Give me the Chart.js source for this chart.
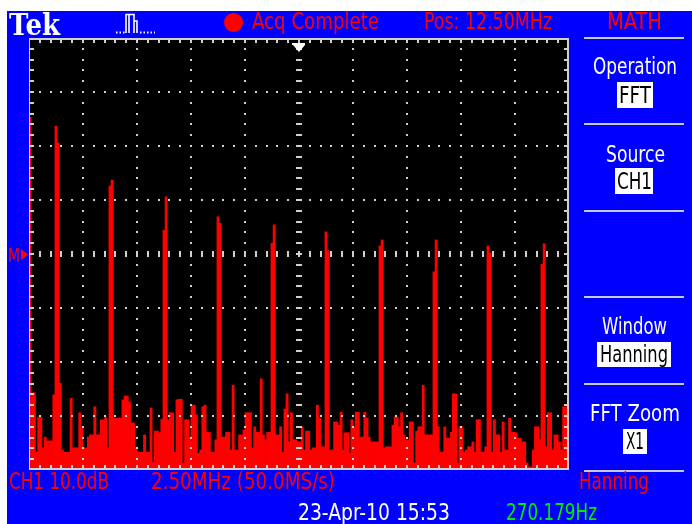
<!DOCTYPE html>
<html>
<head>
<meta charset="utf-8">
<title>Tek MATH FFT</title>
<script src="https://cdn.jsdelivr.net/npm/chart.js@4.4.1/dist/chart.umd.min.js"></script>
<style>
  html, body { margin: 0; padding: 0; background: #fff; }
  body { width: 692px; height: 524px; position: relative; overflow: hidden;
         font-family: "DejaVu Sans Condensed", "DejaVu Sans", sans-serif; }
  #screen { position: absolute; left: 7px; top: 11px; width: 685px; height: 513px; background: #0000fe; }
  #plot { position: absolute; left: 29px; top: 38px; width: 540px; height: 432px; background: #000; }
  .t { position: absolute; white-space: nowrap; font-size: 23px; line-height: 1; transform-origin: 0 0; }
  .box { position: absolute; background: #fff; }
  .sep { position: absolute; left: 584px; width: 100px; height: 2px; background: #c8c8c8; }
  #dot { position: absolute; left: 224px; top: 13px; width: 19px; height: 19px; border-radius: 50%; background: #ff0000; }
</style>
</head>
<body>
<div id="screen"></div>
<div id="plot"><canvas id="fft"></canvas></div>
<div id="dot"></div>
<svg id="icons" width="692" height="524" style="position:absolute;left:0;top:0;pointer-events:none">
  <!-- acquisition pulse icon -->
  <path d="M116 32.5 H125 M140 32.5 H155" stroke="#fff" stroke-width="2" stroke-dasharray="1.5 2" fill="none"/>
  <path d="M126 33 V14.5 H134 V33 M129 15 V33 M134 21 H137 V33" stroke="#fff" stroke-width="1.6" fill="none"/>
  <!-- math reference marker -->
  <path d="M21 249 L28 254.5 L21 260 Z" fill="#ff0000"/>
</svg>
<script>
// FFT trace, dB relative to the M reference, one value per 0.1 MHz bin (0 - 25 MHz)
const spectrumDb = [
  25.3, -25.7, -25.7, -36.7, -30.2, -30.2, -35.9, -33.9, -34.6, -34.6,
  -34.6, -26.1, 23.7, 20.6, -23.9, -36.3, -36.7, -36.7, -36.7, -26.7,
  -35.9, -35.9, -35.9, -29.4, -32.0, -35.9, -35.9, -33.9, -33.5, -33.5,
  -28.3, -33.5, -33.5, -30.7, -30.7, -30.2, -35.9, 12.6, 13.7, -30.4,
  -30.4, -30.4, -30.4, -27.0, -26.3, -26.3, -27.4, -31.3, -31.3, -35.9,
  -36.7, -36.7, -36.7, -33.5, -36.7, -36.7, -28.5, -38.5, -32.8, -32.8,
  -33.1, -30.6, 4.4, 10.6, -30.7, -29.4, -29.4, -36.7, -27.0, -26.9,
  -26.9, -38.7, -30.7, -30.7, -33.9, -28.0, -28.0, -29.8, -36.9, -36.3,
  -28.3, -28.0, -33.0, -33.0, -36.7, -36.7, -34.4, 6.9, 5.7, -33.9,
  -33.9, -33.0, -33.0, -36.3, -24.3, -36.3, -36.3, -33.5, -33.5, -32.6,
  -29.4, -29.4, -29.4, -35.9, -32.0, -33.0, -33.0, -23.1, -33.5, -34.4,
  -33.0, -33.0, 2.0, 5.4, -33.5, -33.5, -32.0, -36.7, -28.7, -25.9,
  -34.8, -29.4, -34.4, -34.4, -34.8, -34.8, -32.0, -36.3, -32.8, -32.8,
  -36.3, -35.9, -35.9, -28.0, -30.4, -35.7, -35.7, 4.1, 0.6, -36.3,
  -36.3, -31.1, -31.1, -31.7, -29.3, -36.3, -33.1, -33.1, -36.9, -30.7,
  -32.0, -29.3, -29.3, -33.9, -33.9, -29.3, -30.4, -33.9, -34.8, -34.8,
  -34.8, -34.8, 1.5, 2.6, -35.9, -35.7, -35.7, -35.7, -31.7, -30.2,
  -30.2, -32.0, -29.4, -33.5, -34.4, -34.4, -31.1, -31.1, -38.7, -32.8,
  -32.0, -32.0, -24.3, -33.5, -33.5, -33.5, -33.5, -3.3, 2.6, -32.0,
  -36.7, -36.7, -32.0, -34.1, -34.1, -33.0, -25.9, -25.9, -38.7, -32.0,
  -32.0, -36.7, -36.3, -35.7, -35.7, -34.8, -36.7, -30.7, -30.7, -36.7,
  -36.7, -35.7, 1.5, 0.2, -36.7, -30.7, -33.5, -33.5, -36.7, -31.1,
  -36.3, -36.3, -30.4, -33.0, -33.0, -33.1, -34.1, -34.1, -34.8, -34.8,
  -38.7, -39.4, -39.4, -36.3, -32.0, -32.0, -34.4, -1.9, 1.9, -35.7,
  -29.4, -29.4, -36.3, -33.5, -33.5, -34.8, -36.3, -28.3, -28.3, -28.3
];
const binMHz = 0.1;
const screenDb = [-40, 40];          // 8 div x 10.0 dB
const xDivs = 10;
const yDivs = 8;

// screen readouts
const headerLabels = ['Acq Complete', 'Pos: 12.50MHz', 'MATH'];
const menuTitles = ['Operation', 'Source', 'Window', 'FFT Zoom'];
const menuValues = ['FFT', 'CH1', 'Hanning', 'X1'];
const footerLabels = ['CH1 10.0dB', '2.50MHz (50.0MS/s)', 'Hanning'];
const statusLabels = ['23-Apr-10 15:53', '270.179Hz'];

const CAP_MID = 0.4815;   // cap-height middle of DejaVu at line-height 1, in em

// put a text at [x1, x2] with its cap middle on capMid
function label(text, x1, x2, capMid, color, size, style) {
  const el = document.createElement('div');
  el.className = 't';
  el.textContent = text;
  el.style.color = color;
  el.style.fontSize = size + 'px';
  if (style) Object.assign(el.style, style);
  document.body.appendChild(el);
  const w = el.getBoundingClientRect().width;
  el.style.left = x1 + 'px';
  el.style.top = (capMid - CAP_MID * size) + 'px';
  el.style.transform = `scaleX(${(x2 - x1) / w})`;
  return el;
}

function box(x1, y1, x2, y2) {
  const el = document.createElement('div');
  el.className = 'box';
  Object.assign(el.style, { left: x1 + 'px', top: y1 + 'px', width: (x2 - x1) + 'px', height: (y2 - y1) + 'px' });
  document.body.appendChild(el);
}

function drawReadouts() {
  const red = '#ff0000', white = '#ffffff';
  label('Tek', 9, 60, 24, white, 30, { fontFamily: '"DejaVu Serif", serif', fontWeight: 'bold' });
  label(headerLabels[0], 252, 379, 21.5, red, 23);
  label(headerLabels[1], 424, 552, 21.5, red, 23);
  label(headerLabels[2], 607, 662, 21.5, red, 23);

  // side menu
  [38, 124, 211, 297, 384, 471].forEach(y => {
    const s = document.createElement('div');
    s.className = 'sep';
    s.style.top = (y - 1) + 'px';
    document.body.appendChild(s);
  });
  const titleSpan = [[593, 677, 66.5], [606, 665, 154.5], [602, 667, 326.5], [590, 680, 413]];
  const valueBox = [[617, 82, 653, 108], [615, 168, 653, 194], [597, 342, 671, 367], [623, 429, 647, 454]];
  const valueSpan = [[619, 651], [617, 652], [600, 668], [626, 644]];
  menuTitles.forEach((t, i) => {
    const [a, b, c] = titleSpan[i];
    label(t, a, b, c, white, 23);
    const [x1, y1, x2, y2] = valueBox[i];
    box(x1, y1, x2, y2);
    label(menuValues[i], valueSpan[i][0], valueSpan[i][1], (y1 + y2) / 2, '#000', 23);
  });

  label(footerLabels[0], 9, 109, 481.5, red, 23);
  label(footerLabels[1], 151, 335, 481.5, red, 23);
  label(footerLabels[2], 579, 649, 481.5, red, 23);
  label(statusLabels[0], 298, 450, 512, white, 23);
  label(statusLabels[1], 506, 597, 512, '#00ee00', 23);
  label('M', 8, 20, 254.5, red, 20);
}

// dotted graticule, centre cross, frame ticks and trigger marker, drawn over the trace
const graticule = {
  id: 'graticule',
  afterDatasetsDraw(chart) {
    const { ctx, chartArea: a } = chart;
    const ys = chart.scales.y;
    const dx = a.width / xDivs, mx = dx / 5;
    const my = (ys.getPixelForValue(screenDb[0]) - ys.getPixelForValue(screenDb[0] + 10)) / 5;
    const x0 = a.left + a.width / 2, y0 = ys.getPixelForValue(0);
    const dot = (x, y, w, h) => ctx.fillRect(Math.round(x - w / 2), Math.round(y - h / 2), w, h);
    ctx.save();
    ctx.fillStyle = '#d0d0d0';
    for (let i = 1; i < xDivs; i++) {
      if (i === xDivs / 2) continue;
      for (let k = 1; k < yDivs * 5; k++) dot(a.left + i * dx, a.top + k * my, 2, 2);
    }
    for (let db = screenDb[0] + 10; db < screenDb[1]; db += 10) {
      if (db === 0) continue;
      const y = ys.getPixelForValue(db);
      for (let k = 1; k < xDivs * 5; k++) dot(a.left + k * mx, y, 2, 2);
    }
    // centre cross
    for (let k = 1; k < xDivs * 5; k++) dot(a.left + k * mx, y0, 2, 6);
    for (let k = 1; k < yDivs * 5; k++) dot(x0, a.top + k * my, 6, 2);
    // frame with ticks
    ctx.fillRect(a.left, a.top, a.width, 2);
    ctx.fillRect(a.left, a.bottom - 2, a.width, 2);
    ctx.fillRect(a.left, a.top, 1, a.height);
    ctx.fillRect(a.right - 2, a.top, 2, a.height);
    for (let k = 1; k < xDivs * 5; k++) {
      const x = Math.round(a.left + k * mx - 1);
      ctx.fillRect(x, a.top, 2, 5);
      ctx.fillRect(x, a.bottom - 5, 2, 5);
    }
    for (let k = 1; k < yDivs * 5; k++) {
      const y = Math.round(a.top + k * my - 1);
      ctx.fillRect(a.left, y, 5, 2);
      ctx.fillRect(a.right - 5, y, 5, 2);
    }
    // horizontal position marker
    ctx.fillStyle = '#ffffff';
    ctx.fillRect(x0 - 7, a.top + 5, 13, 2);
    ctx.beginPath();
    ctx.moveTo(x0 - 6, a.top + 7);
    ctx.lineTo(x0 + 6, a.top + 7);
    ctx.lineTo(x0, a.top + 14);
    ctx.closePath();
    ctx.fill();
    ctx.restore();
  }
};

document.addEventListener('DOMContentLoaded', () => {
  drawReadouts();

  const bins = spectrumDb.map((_, i) => ((i + 0.5) * binMHz).toFixed(2));
  new Chart(document.getElementById('fft'), {
    type: 'bar',
    data: {
      labels: bins,
      datasets: [{
        label: 'MATH FFT',
        data: spectrumDb.map(v => [screenDb[0], v]),
        backgroundColor: '#ff0000',
        borderWidth: 0,
        barPercentage: 1,
        categoryPercentage: 1
      }]
    },
    options: {
      responsive: true,
      maintainAspectRatio: false,
      animation: false,
      layout: { padding: 0 },
      plugins: { legend: { display: false }, tooltip: { enabled: false } },
      scales: {
        x: { display: false, offset: true },
        y: { display: false, min: screenDb[0], max: screenDb[1] }
      }
    },
    plugins: [graticule]
  });
});
</script>
</body>
</html>
